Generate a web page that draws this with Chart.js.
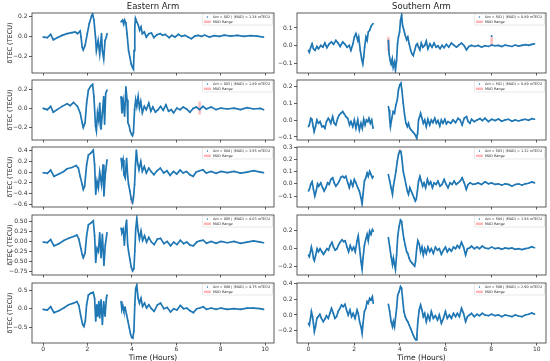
<!DOCTYPE html>
<html>
<head>
<meta charset="utf-8">
<script src="https://cdn.jsdelivr.net/npm/chart.js@4.4.1/dist/chart.umd.min.js"></script>
<style>
  html, body { margin: 0; padding: 0; background: #fff; }
  #fig { position: relative; width: 550px; height: 361px; overflow: hidden; }
  #fig canvas { position: absolute; }
</style>
</head>
<body>
<div id="fig"></div>
<script>
// dTEC series, [hours, TECU]; null marks the data gap
const e002 = [[0,-0.007],[0.19,-0.013],[0.34,0.02],[0.46,-0.033],[0.63,-0.013],[0.86,0.01],[1.08,0.027],[1.30,0.037],[1.45,0.043],[1.55,0.027],[1.67,0.053],[1.71,-0.007],[1.76,-0.107],[1.81,-0.133],[1.89,-0.09],[1.99,0.027],[2.08,0.127],[2.18,0.2],[2.23,0.22],[2.29,0.16],[2.36,-0.007],[2.40,-0.14],[2.48,-0.04],[2.55,-0.173],[2.63,0.027],[2.67,-0.14],[2.73,-0.223],[2.79,-0.04],[2.85,-0.007],[2.88,0.027],
  [3.2,null],
  [3.51,0.143],[3.58,0.16],[3.63,0.12],[3.67,0.16],[3.73,0.133],[3.78,0.027],[3.85,-0.14],[3.91,-0.207],[3.97,-0.273],[4.03,-0.307],[4.07,-0.323],[4.10,-0.14],[4.13,0.093],[4.16,0.177],[4.22,0.143],[4.29,0.11],[4.35,0.06],[4.41,0.093],[4.47,0.027],[4.56,0.043],[4.65,-0.007],[4.76,0.027],[4.88,0.033],[4.99,-0.013],[5.13,0.017],[5.28,0.027],[5.38,0.01],[5.50,0.02],[5.68,-0.013],[5.80,0.01],[5.94,-0.007],[6.09,0.02],[6.24,0],[6.39,0.01],[6.53,-0.007],[6.68,-0.023],[6.83,0.003],[6.98,0.01],[7.15,0],[7.27,0.013],[7.49,-0.007],[7.71,0.007],[7.94,0],[8.16,0.013],[8.45,0.003],[8.75,0.01],[9.04,0],[9.34,0.007],[9.63,0.003],[9.93,-0.007]];

const e003 = [[0,0],[0.19,-0.014],[0.34,0.021],[0.46,-0.041],[0.63,-0.014],[0.86,0.021],[1.08,0.048],[1.22,0.028],[1.37,0.062],[1.55,0.021],[1.67,-0.048],[1.76,-0.152],[1.81,-0.203],[1.89,-0.152],[1.96,0.055],[2.04,0.193],[2.14,0.234],[2.23,0.255],[2.29,0.124],[2.36,-0.186],[2.40,-0.238],[2.45,-0.048],[2.51,-0.134],[2.55,0.055],[2.61,-0.221],[2.67,-0.048],[2.73,0.124],[2.77,-0.169],[2.82,0.159],[2.88,0.193],
  [3.2,null],
  [3.51,0.124],[3.55,-0.048],[3.61,0.072],[3.67,-0.083],[3.73,0.228],[3.78,0.09],[3.82,-0.152],[3.88,-0.186],[3.92,-0.238],[3.98,-0.272],[4.03,-0.29],[4.07,-0.255],[4.12,-0.014],[4.17,0.09],[4.22,0.021],[4.28,0.124],[4.34,0.003],[4.40,0.072],[4.47,-0.048],[4.56,0.021],[4.65,-0.014],[4.76,0.055],[4.85,-0.031],[4.94,0.014],[5.06,-0.041],[5.18,-0.014],[5.29,0.021],[5.41,-0.021],[5.53,0.038],[5.65,-0.031],[5.77,-0.014],[5.88,-0.048],[6.02,0.003],[6.17,-0.014],[6.31,0.014],[6.46,-0.007],[6.61,-0.041],[6.76,0],[6.90,0.014],[7.05,-0.014],[7.20,0.021],[7.35,-0.007],[7.57,0.014],[7.79,-0.014],[8.01,0.003],[8.30,-0.007],[8.60,0.003],[8.89,-0.014],[9.19,0.007],[9.48,-0.007],[9.78,0],[9.93,-0.014]];

const e004 = [[0,-0.012],[0.19,-0.025],[0.34,0.037],[0.49,-0.08],[0.71,-0.037],[0.93,0.012],[1.08,0.062],[1.30,0.086],[1.49,0.123],[1.59,0.074],[1.67,-0.08],[1.76,-0.234],[1.81,-0.326],[1.87,-0.265],[1.96,0.135],[2.04,0.32],[2.14,0.351],[2.26,0.412],[2.32,0.135],[2.37,-0.418],[2.43,-0.172],[2.49,-0.295],[2.55,0],[2.63,-0.234],[2.70,0.135],[2.74,-0.449],[2.80,-0.049],[2.88,0.228],
  [3.2,null],
  [3.51,0.258],[3.55,0.135],[3.60,0.228],[3.64,-0.049],[3.70,-0.111],[3.76,0.258],[3.81,-0.08],[3.85,-0.234],[3.91,-0.357],[3.97,-0.511],[4.03,-0.572],[4.07,-0.48],[4.12,-0.234],[4.16,0.135],[4.20,0.412],[4.26,0.166],[4.32,0.043],[4.40,0.197],[4.47,0.012],[4.56,0.105],[4.65,-0.018],[4.76,0.074],[4.88,0],[4.99,-0.049],[5.13,0.025],[5.28,0.074],[5.43,-0.018],[5.58,0.025],[5.72,-0.062],[5.87,0.012],[6.02,-0.037],[6.17,0.037],[6.31,-0.018],[6.46,0.012],[6.61,-0.049],[6.76,-0.08],[6.90,0],[7.05,0.025],[7.20,0.043],[7.35,-0.018],[7.57,0.012],[7.79,-0.025],[8.01,0.012],[8.30,-0.012],[8.60,0.012],[8.89,-0.018],[9.19,0],[9.48,0.025],[9.78,0],[9.93,-0.012]];

const e005 = [[0,-0.016],[0.19,-0.032],[0.34,0.048],[0.49,-0.111],[0.71,-0.056],[0.93,0.024],[1.15,0.079],[1.37,0.127],[1.52,0.159],[1.61,0.063],[1.70,-0.175],[1.76,-0.333],[1.81,-0.413],[1.89,-0.294],[1.96,0.143],[2.04,0.421],[2.14,0.46],[2.26,0.524],[2.32,0.143],[2.37,-0.532],[2.43,-0.175],[2.49,-0.254],[2.55,0.222],[2.61,-0.413],[2.67,0.183],[2.74,-0.611],[2.80,-0.095],[2.88,0.222],
  [3.2,null],
  [3.51,0.341],[3.55,0.222],[3.61,0.302],[3.66,-0.095],[3.72,0.381],[3.76,0.54],[3.81,-0.095],[3.85,-0.254],[3.91,-0.452],[3.97,-0.651],[4.03,-0.746],[4.09,-0.69],[4.13,-0.254],[4.17,0.302],[4.22,0.579],[4.28,0.262],[4.34,0.063],[4.41,0.262],[4.48,0.024],[4.57,0.143],[4.66,-0.016],[4.76,0.103],[4.88,-0.016],[5.00,-0.079],[5.15,0.063],[5.29,0.079],[5.44,-0.056],[5.59,0],[5.74,-0.111],[5.88,-0.016],[6.03,-0.079],[6.18,0.032],[6.33,-0.056],[6.47,-0.016],[6.62,-0.095],[6.77,-0.111],[6.92,-0.016],[7.06,0.016],[7.21,0.032],[7.36,-0.048],[7.57,0],[7.79,-0.048],[8.01,0],[8.30,-0.032],[8.60,0],[8.89,-0.048],[9.19,-0.016],[9.48,0.016],[9.78,-0.016],[9.93,-0.032]];

const e006 = [[0,-0.018],[0.19,-0.035],[0.34,0.053],[0.49,-0.105],[0.71,-0.053],[0.93,0.018],[1.15,0.105],[1.37,0.149],[1.52,0.193],[1.61,0.088],[1.70,-0.202],[1.78,-0.421],[1.84,-0.474],[1.90,-0.333],[1.96,0.105],[2.04,0.368],[2.14,0.412],[2.26,0.439],[2.32,0.281],[2.37,-0.333],[2.42,0.105],[2.46,-0.202],[2.51,0.193],[2.55,-0.246],[2.61,0.237],[2.67,-0.421],[2.73,0.193],[2.79,-0.202],[2.85,0.281],[2.88,0.368],
  [3.2,null],
  [3.51,0.193],[3.55,-0.026],[3.60,0.061],[3.64,-0.053],[3.70,0.018],[3.76,-0.158],[3.82,-0.333],[3.88,-0.509],[3.94,-0.684],[3.99,-0.772],[4.04,-0.789],[4.09,-0.596],[4.13,0.105],[4.17,0.544],[4.22,0.632],[4.28,0.281],[4.34,0.149],[4.41,0.281],[4.48,0.061],[4.57,0.149],[4.66,0.018],[4.76,0.105],[4.88,0],[5.00,-0.07],[5.15,0.105],[5.29,0.149],[5.44,0],[5.59,0.035],[5.74,-0.088],[5.88,0],[6.03,-0.035],[6.18,0.088],[6.33,0],[6.47,0.018],[6.62,-0.053],[6.77,-0.105],[6.92,0],[7.06,0.018],[7.21,0.053],[7.36,-0.018],[7.57,0.018],[7.79,-0.018],[8.01,0.018],[8.30,-0.018],[8.60,0],[8.89,-0.018],[9.19,0.018],[9.48,0.018],[9.78,0],[9.93,-0.018]];

const s501 = [[0,-0.026],[0.04,-0.036],[0.10,-0.008],[0.16,0.011],[0.22,-0.017],[0.29,-0.026],[0.37,-0.004],[0.44,-0.017],[0.54,0.002],[0.63,-0.008],[0.72,0.015],[0.81,-0.011],[0.91,0.011],[1.01,0.021],[1.10,0.008],[1.20,0.03],[1.30,0.015],[1.39,-0.004],[1.50,0.021],[1.60,0.008],[1.69,-0.008],[1.79,0.002],[1.86,-0.026],[1.95,0.011],[2.01,0.049],[2.08,0.068],[2.16,0.03],[2.20,0.049],[2.27,-0.026],[2.33,-0.074],[2.38,-0.102],[2.42,-0.064],[2.46,-0.008],[2.52,0.049],[2.57,0.03],[2.62,0.077],[2.68,0.087],[2.74,0.109],[2.83,0.125],
  [3.2,null],
  [3.50,0.03],[3.53,-0.045],[3.58,-0.083],[3.62,-0.102],[3.67,-0.074],[3.71,-0.121],[3.77,-0.092],[3.81,-0.136],[3.86,-0.083],[3.90,0.011],[3.94,0.049],[3.99,0.077],[4.03,0.143],[4.08,0.172],[4.12,0.115],[4.18,0.087],[4.24,0.058],[4.30,0.034],[4.35,0.049],[4.41,0.011],[4.47,-0.023],[4.53,-0.045],[4.59,-0.055],[4.65,-0.026],[4.71,0.002],[4.77,0.011],[4.82,-0.008],[4.88,-0.023],[4.94,0.015],[5.01,-0.008],[5.09,0.002],[5.16,0.026],[5.23,-0.017],[5.32,0.011],[5.41,-0.008],[5.50,0.015],[5.59,-0.008],[5.67,0],[5.76,-0.017],[5.85,0.002],[5.94,-0.011],[6.04,0.008],[6.14,-0.008],[6.26,0.015],[6.38,0.002],[6.48,-0.008],[6.58,0.004],[6.70,0.015],[6.82,0],[6.92,-0.023],[7.02,-0.004],[7.14,0.002],[7.29,-0.004],[7.43,0.002],[7.58,-0.008],[7.73,0],[7.88,-0.004],[8.02,0.004],[8.17,0],[8.32,0.002],[8.46,-0.004],[8.61,0.004],[8.76,0],[8.91,-0.004],[9.05,0.004],[9.20,-0.002],[9.35,0.002],[9.49,0.006],[9.64,0.002],[9.78,0.008],[9.90,0.011]];

const s502 = [[0,-0.038],[0.04,-0.028],[0.10,0.012],[0.15,0.006],[0.21,-0.038],[0.25,-0.068],[0.31,-0.038],[0.37,0.002],[0.44,-0.018],[0.51,-0.008],[0.59,-0.038],[0.66,-0.034],[0.72,-0.048],[0.79,-0.008],[0.87,0.012],[0.92,0.002],[0.98,-0.018],[1.06,0.022],[1.13,-0.018],[1.20,-0.028],[1.28,0.012],[1.35,0.032],[1.42,0.042],[1.50,0.052],[1.57,0.038],[1.64,0.022],[1.72,0.012],[1.80,-0.028],[1.86,-0.008],[1.94,-0.038],[2.01,0.002],[2.08,-0.048],[2.16,0.002],[2.23,-0.058],[2.30,-0.018],[2.36,-0.048],[2.42,0.006],[2.48,-0.028],[2.54,0.002],[2.60,-0.008],[2.65,0.012],[2.71,-0.018],[2.77,0.002],[2.83,-0.048],
  [3.2,null],
  [3.50,0.082],[3.53,0.062],[3.56,0.002],[3.59,-0.038],[3.65,0.012],[3.71,0.052],[3.77,0.042],[3.83,0.092],[3.89,0.122],[3.94,0.182],[4.00,0.212],[4.05,0.222],[4.09,0.182],[4.15,0.102],[4.21,0.032],[4.27,-0.018],[4.33,-0.038],[4.38,-0.018],[4.44,-0.048],[4.50,-0.058],[4.56,-0.068],[4.62,-0.078],[4.68,-0.088],[4.74,-0.108],[4.78,-0.078],[4.82,0.002],[4.87,0.022],[4.91,0.042],[4.97,0.012],[5.03,-0.018],[5.09,0.002],[5.16,-0.038],[5.23,0.006],[5.31,-0.028],[5.38,0.002],[5.45,-0.014],[5.53,0.012],[5.60,-0.018],[5.67,-0.002],[5.75,-0.034],[5.82,0.002],[5.89,-0.018],[5.97,0.006],[6.04,-0.022],[6.11,-0.008],[6.23,-0.018],[6.33,0.002],[6.44,-0.014],[6.55,0.012],[6.64,0.002],[6.73,-0.028],[6.82,0.012],[6.92,0.022],[6.99,-0.008],[7.07,-0.018],[7.14,0.006],[7.26,-0.008],[7.38,0.002],[7.51,0.01],[7.61,-0.002],[7.73,0.012],[7.88,-0.008],[8.02,0.006],[8.17,-0.002],[8.32,0.008],[8.46,-0.006],[8.61,0.002],[8.76,0.006],[8.91,-0.006],[9.05,0.002],[9.20,-0.004],[9.35,0.002],[9.49,0.006],[9.64,0],[9.78,0.01],[9.90,0.006]];

const s503 = [[0,-0.059],[0.04,-0.046],[0.10,-0.005],[0.16,0.016],[0.22,-0.046],[0.28,-0.1],[0.34,-0.059],[0.40,0],[0.45,-0.019],[0.54,0.008],[0.62,-0.032],[0.69,-0.059],[0.76,-0.032],[0.84,0.008],[0.91,-0.005],[0.98,0.035],[1.06,0.049],[1.13,0.008],[1.20,-0.019],[1.28,0],[1.35,0.022],[1.42,0.054],[1.50,0.062],[1.57,0.049],[1.64,0.062],[1.72,0.008],[1.79,-0.032],[1.86,0.022],[1.94,-0.019],[2.01,0.035],[2.08,0.008],[2.16,-0.032],[2.23,-0.059],[2.30,-0.114],[2.35,-0.162],[2.39,-0.086],[2.45,0.022],[2.51,0.049],[2.57,0.089],[2.62,0.062],[2.68,0.103],[2.74,0.076],[2.80,0.049],[2.84,0.062],
  [3.2,null],
  [3.50,0.076],[3.56,0.022],[3.62,-0.032],[3.68,-0.086],[3.72,-0.019],[3.77,0.035],[3.83,0.103],[3.89,0.184],[3.94,0.238],[4.00,0.27],[4.05,0.265],[4.09,0.211],[4.15,0.103],[4.21,0.049],[4.27,-0.005],[4.33,-0.059],[4.38,-0.086],[4.44,-0.032],[4.50,-0.059],[4.56,-0.086],[4.62,-0.114],[4.68,-0.141],[4.72,-0.127],[4.77,-0.059],[4.82,0.022],[4.88,0.062],[4.94,0.022],[5.00,-0.019],[5.06,0.008],[5.13,-0.032],[5.21,0.035],[5.28,-0.005],[5.35,0.016],[5.43,-0.032],[5.50,0.008],[5.59,-0.005],[5.67,0.022],[5.76,-0.019],[5.85,-0.005],[5.94,0.035],[6.03,-0.005],[6.11,-0.032],[6.20,0.008],[6.29,-0.005],[6.38,0.022],[6.47,-0.005],[6.55,0.008],[6.64,0.022],[6.73,0.049],[6.82,0.008],[6.91,-0.046],[6.99,-0.005],[7.08,0.008],[7.20,-0.005],[7.32,0],[7.43,0.008],[7.58,-0.005],[7.73,0.016],[7.88,0],[8.02,0.008],[8.17,-0.005],[8.32,0],[8.46,-0.011],[8.61,0],[8.76,-0.005],[8.91,-0.019],[9.05,-0.005],[9.20,0],[9.35,-0.011],[9.49,0],[9.64,0.005],[9.78,0.016],[9.90,0.008]];

const s504 = [[0,-0.075],[0.04,-0.093],[0.09,-0.039],[0.13,0.014],[0.18,-0.039],[0.22,-0.111],[0.26,-0.139],[0.32,-0.075],[0.38,-0.004],[0.44,-0.039],[0.51,-0.004],[0.59,-0.039],[0.66,-0.068],[0.73,-0.039],[0.81,-0.004],[0.88,-0.021],[0.95,0.032],[1.03,0.068],[1.10,0.014],[1.17,-0.021],[1.25,-0.004],[1.32,0.039],[1.39,0.068],[1.47,0.096],[1.54,0.075],[1.61,0.086],[1.69,0.014],[1.76,-0.039],[1.83,0.032],[1.91,-0.021],[1.98,0.014],[2.05,-0.039],[2.13,0.086],[2.18,0.139],[2.24,-0.004],[2.30,-0.146],[2.35,-0.236],[2.39,-0.111],[2.45,0.032],[2.51,0.104],[2.57,0.157],[2.62,0.086],[2.68,0.193],[2.74,0.157],[2.80,0.211],[2.84,0.193],
  [3.2,null],
  [3.50,0.121],[3.56,0.014],[3.62,-0.093],[3.68,-0.182],[3.72,-0.111],[3.77,-0.182],[3.81,-0.236],[3.86,-0.075],[3.91,0.139],[3.97,0.246],[4.03,0.318],[4.08,0.3],[4.12,0.211],[4.18,0.104],[4.24,0.032],[4.30,-0.039],[4.35,-0.057],[4.41,-0.111],[4.47,-0.146],[4.53,-0.164],[4.59,-0.182],[4.65,-0.2],[4.69,-0.146],[4.74,-0.004],[4.79,0.086],[4.85,0.05],[4.91,-0.039],[4.97,0.014],[5.03,-0.075],[5.09,-0.004],[5.16,-0.057],[5.23,0.014],[5.31,-0.039],[5.38,-0.004],[5.47,-0.057],[5.56,0.014],[5.65,-0.021],[5.73,-0.004],[5.82,-0.068],[5.91,-0.021],[6.00,0.014],[6.08,-0.039],[6.17,-0.004],[6.26,-0.032],[6.35,0.014],[6.44,-0.004],[6.52,0.032],[6.61,0.004],[6.70,0.068],[6.79,0.014],[6.88,-0.075],[6.96,-0.004],[7.05,0.004],[7.14,0.025],[7.26,-0.004],[7.38,0.014],[7.49,-0.004],[7.61,0.025],[7.73,0.004],[7.88,-0.004],[8.02,0.014],[8.17,-0.004],[8.32,0.004],[8.46,-0.011],[8.61,0.004],[8.76,-0.004],[8.91,0.004],[9.05,-0.011],[9.20,-0.004],[9.35,-0.014],[9.49,-0.004],[9.64,0.004],[9.78,0.018],[9.90,0.007]];

const s506 = [[0,-0.106],[0.04,-0.128],[0.09,-0.043],[0.13,0.043],[0.18,-0.021],[0.22,-0.106],[0.26,-0.213],[0.31,-0.149],[0.37,-0.043],[0.43,-0.021],[0.50,0.009],[0.57,-0.043],[0.65,-0.085],[0.72,-0.051],[0.79,-0.009],[0.87,-0.043],[0.94,0.021],[1.01,0.085],[1.09,0.021],[1.16,-0.043],[1.23,-0.021],[1.30,0.043],[1.38,0.085],[1.45,0.128],[1.52,0.106],[1.60,0.136],[1.67,0.064],[1.74,0],[1.82,0.064],[1.89,-0.021],[1.96,0.021],[2.04,-0.043],[2.13,0.064],[2.18,0.021],[2.24,-0.085],[2.30,-0.149],[2.35,-0.234],[2.39,-0.106],[2.45,0.043],[2.51,0.085],[2.57,0.17],[2.62,0.149],[2.68,0.213],[2.74,0.191],[2.80,0.234],[2.84,0.149],
  [3.2,null],
  [3.50,0.136],[3.56,0.043],[3.62,-0.085],[3.68,-0.149],[3.72,-0.085],[3.77,-0.149],[3.81,-0.043],[3.86,0.085],[3.91,0.255],[3.97,0.298],[4.03,0.362],[4.08,0.34],[4.12,0.213],[4.18,0.043],[4.24,-0.021],[4.30,-0.064],[4.35,-0.085],[4.41,-0.128],[4.47,-0.17],[4.53,-0.213],[4.59,-0.255],[4.65,-0.298],[4.71,-0.319],[4.75,-0.255],[4.79,-0.085],[4.85,0.064],[4.91,0.128],[4.97,0.064],[5.03,-0.021],[5.09,0.021],[5.16,-0.085],[5.23,0],[5.31,-0.064],[5.38,0.043],[5.47,-0.043],[5.56,-0.009],[5.65,-0.064],[5.73,0],[5.82,-0.106],[5.91,-0.043],[6.00,0.043],[6.08,-0.043],[6.17,0],[6.26,-0.043],[6.35,0.021],[6.44,-0.021],[6.52,0.021],[6.61,-0.021],[6.70,0.085],[6.79,0.021],[6.88,-0.085],[6.96,-0.021],[7.05,0],[7.14,0.021],[7.26,-0.021],[7.38,0.009],[7.49,-0.009],[7.61,0.021],[7.73,0],[7.88,-0.009],[8.02,0.009],[8.17,-0.009],[8.32,0],[8.46,-0.021],[8.61,0],[8.76,-0.009],[8.91,-0.021],[9.05,0],[9.20,-0.013],[9.35,-0.021],[9.49,0],[9.64,0.009],[9.78,0.026],[9.90,0.009]];

// isolated outlier sample on 501
const s501Outlier = [[8.02,0.055]];

// MAD ranges drawn as vertical bands: [hours, low, high]
const madE003 = [[7.05,-0.066,0.072]];
const madE004 = [[4.0,-0.6,-0.45]];
const madS501 = [[3.5,-0.03,0.05],[8.02,0,0.05]];
const madS503 = [[4.0,0.25,0.285]];

const antEast = ['002', '003', '004', '005', '006'];
const madEast = ['1.34', '1.89', '3.55', '4.03', '4.75'];
const antSouth = ['501', '502', '503', '504', '506'];
const madSouth = ['0.89', '0.89', '1.32', '1.58', '2.90'];

const yLimEast = [[-0.36, 0.23], [-0.335, 0.30], [-0.655, 0.47], [-0.85, 0.67], [-0.92, 0.69]];
const yStepEast = [0.2, 0.2, 0.2, 0.25, 0.5];
const yLimSouth = [[-0.153, 0.184], [-0.118, 0.241], [-0.19, 0.302], [-0.30, 0.375], [-0.357, 0.408]];
const yStepSouth = [0.1, 0.1, 0.1, 0.2, 0.2];
const columnTitles = ['Eastern Arm', 'Southern Arm'];

Chart.defaults.font.family = '"DejaVu Sans", sans-serif';
Chart.defaults.color = '#333';

const FONT = '"DejaVu Sans", sans-serif';
const rowTop = [13, 80, 147, 215, 283];
const rowH = 60;

const fmt = (v, d) => (Math.abs(v) < 1e-9 ? 0 : v).toFixed(d).replace('-', '\u2212');

const frame = {
    id: 'frame',
    afterDatasetsDraw(chart) {
        const { ctx, chartArea: a } = chart;
        ctx.save();
        ctx.strokeStyle = '#333';
        ctx.lineWidth = 0.8;
        ctx.strokeRect(a.left, a.top, a.right - a.left, a.bottom - a.top);
        ctx.restore();
    }
};

const legendBox = {
    id: 'legendBox',
    afterDatasetsDraw(chart, args, opts) {
        const { ctx, chartArea: a } = chart;
        ctx.save();
        ctx.font = '3.4px ' + FONT;
        const w = ctx.measureText(opts.text).width + 13;
        const h = 11;
        const x = a.right - w - 1.5;
        const y = a.top + 1;
        ctx.fillStyle = 'rgba(255,255,255,0.85)';
        ctx.strokeStyle = '#d0d0d0';
        ctx.lineWidth = 0.5;
        ctx.beginPath();
        ctx.roundRect(x, y, w, h, 1);
        ctx.fill();
        ctx.stroke();
        ctx.fillStyle = '#1f77b4';
        ctx.beginPath();
        ctx.arc(x + 5, y + 3, 0.7, 0, Math.PI * 2);
        ctx.fill();
        ctx.fillStyle = 'rgba(255,90,90,0.45)';
        ctx.fillRect(x + 1.5, y + 6.6, 7, 2.4);
        ctx.fillStyle = '#222';
        ctx.textBaseline = 'middle';
        ctx.fillText(opts.text, x + 10.5, y + 3);
        ctx.fillText('MAD Range', x + 10.5, y + 7.8);
        ctx.restore();
    }
};

function toPoints(pairs) {
    return pairs.map(([t, v]) => ({ x: t, y: v }));
}

function madPoints(list) {
    const pts = [];
    list.forEach(([t, lo, hi]) => {
        pts.push({ x: t, y: lo }, { x: t, y: hi }, { x: t, y: null });
    });
    return pts;
}

const fig = document.getElementById('fig');

function addPanel(col, row, series, extra, mad, ant, madVal, ylim, step) {
    const left = col === 0;
    const bottom = row === 4;
    const canvasLeft = left ? 0 : 277;
    const axisW = left ? 32 : 20;
    const plotW = left ? 244 : 249;
    const padRight = left ? 2 : 4;
    const canvasTop = row === 0 ? 0 : rowTop[row] - 7;
    const bottomH = bottom ? 20 : 6;
    const width = axisW + plotW + padRight;
    const height = rowTop[row] - canvasTop + rowH + bottomH;
    const dec = step === 0.25 ? 2 : 1;

    const canvas = document.createElement('canvas');
    canvas.width = width;
    canvas.height = height;
    canvas.style.left = canvasLeft + 'px';
    canvas.style.top = canvasTop + 'px';
    fig.appendChild(canvas);

    new Chart(canvas.getContext('2d'), {
        type: 'scatter',
        data: {
            datasets: [{
                data: toPoints(series),
                showLine: true,
                spanGaps: false,
                borderColor: '#1f77b4',
                borderWidth: 1.7,
                pointRadius: 0.8,
                pointBorderWidth: 0,
                pointBackgroundColor: '#1f77b4'
            }, {
                data: toPoints(extra),
                pointRadius: 1,
                pointBorderWidth: 0,
                pointBackgroundColor: '#1f77b4'
            }, {
                data: madPoints(mad),
                showLine: true,
                spanGaps: false,
                borderColor: 'rgba(255,90,90,0.4)',
                borderWidth: 2.5,
                pointRadius: 0
            }]
        },
        options: {
            responsive: false,
            animation: false,
            events: [],
            layout: { padding: { top: row === 0 ? 0 : 7, right: padRight, left: 0, bottom: 0 } },
            scales: {
                x: {
                    type: 'linear',
                    min: -0.5,
                    max: 10.4,
                    afterFit: (s) => { s.height = bottomH; },
                    border: { display: false },
                    grid: { drawOnChartArea: false, tickLength: 2.5, color: '#333', lineWidth: 0.8 },
                    ticks: {
                        display: bottom,
                        stepSize: 2,
                        includeBounds: false,
                        autoSkip: false,
                        maxRotation: 0,
                        padding: 0.5,
                        font: { size: 6 },
                        color: '#333'
                    },
                    title: {
                        display: bottom,
                        text: 'Time (Hours)',
                        font: { size: 7.5 },
                        color: '#222',
                        padding: { top: 0, bottom: 0 }
                    }
                },
                y: {
                    type: 'linear',
                    min: ylim[0],
                    max: ylim[1],
                    afterFit: (s) => { s.width = axisW; },
                    border: { display: false },
                    grid: { drawOnChartArea: false, tickLength: 3, color: '#333', lineWidth: 0.8 },
                    ticks: {
                        stepSize: step,
                        includeBounds: false,
                        autoSkip: false,
                        padding: 1.5,
                        font: { size: 6 },
                        color: '#333',
                        callback: (v) => fmt(v, dec)
                    },
                    title: {
                        display: left,
                        text: '\u03B4TEC (TECU)',
                        font: { size: 6.5 },
                        color: '#222',
                        padding: { top: 6, bottom: 0 }
                    }
                }
            },
            plugins: {
                legend: { display: false },
                tooltip: { enabled: false },
                title: {
                    display: row === 0,
                    text: columnTitles[col],
                    fullSize: false,
                    font: { size: 8.5, weight: 'normal' },
                    color: '#222',
                    padding: { top: 1.6, bottom: 1.2 }
                },
                legendBox: { text: 'Ant = ' + ant + ' | \u27E8MAD\u27E9 = ' + madVal + ' mTECU' }
            }
        },
        plugins: [frame, legendBox]
    });
}

const eastSeries = [e002, e003, e004, e005, e006];
const eastMad = [[], madE003, madE004, [], []];
const southSeries = [s501, s502, s503, s504, s506];
const southExtra = [s501Outlier, [], [], [], []];
const southMad = [madS501, [], madS503, [], []];

for (let r = 0; r < 5; r++) {
    addPanel(0, r, eastSeries[r], [], eastMad[r], antEast[r], madEast[r], yLimEast[r], yStepEast[r]);
    addPanel(1, r, southSeries[r], southExtra[r], southMad[r], antSouth[r], madSouth[r], yLimSouth[r], yStepSouth[r]);
}
</script>
</body>
</html>
